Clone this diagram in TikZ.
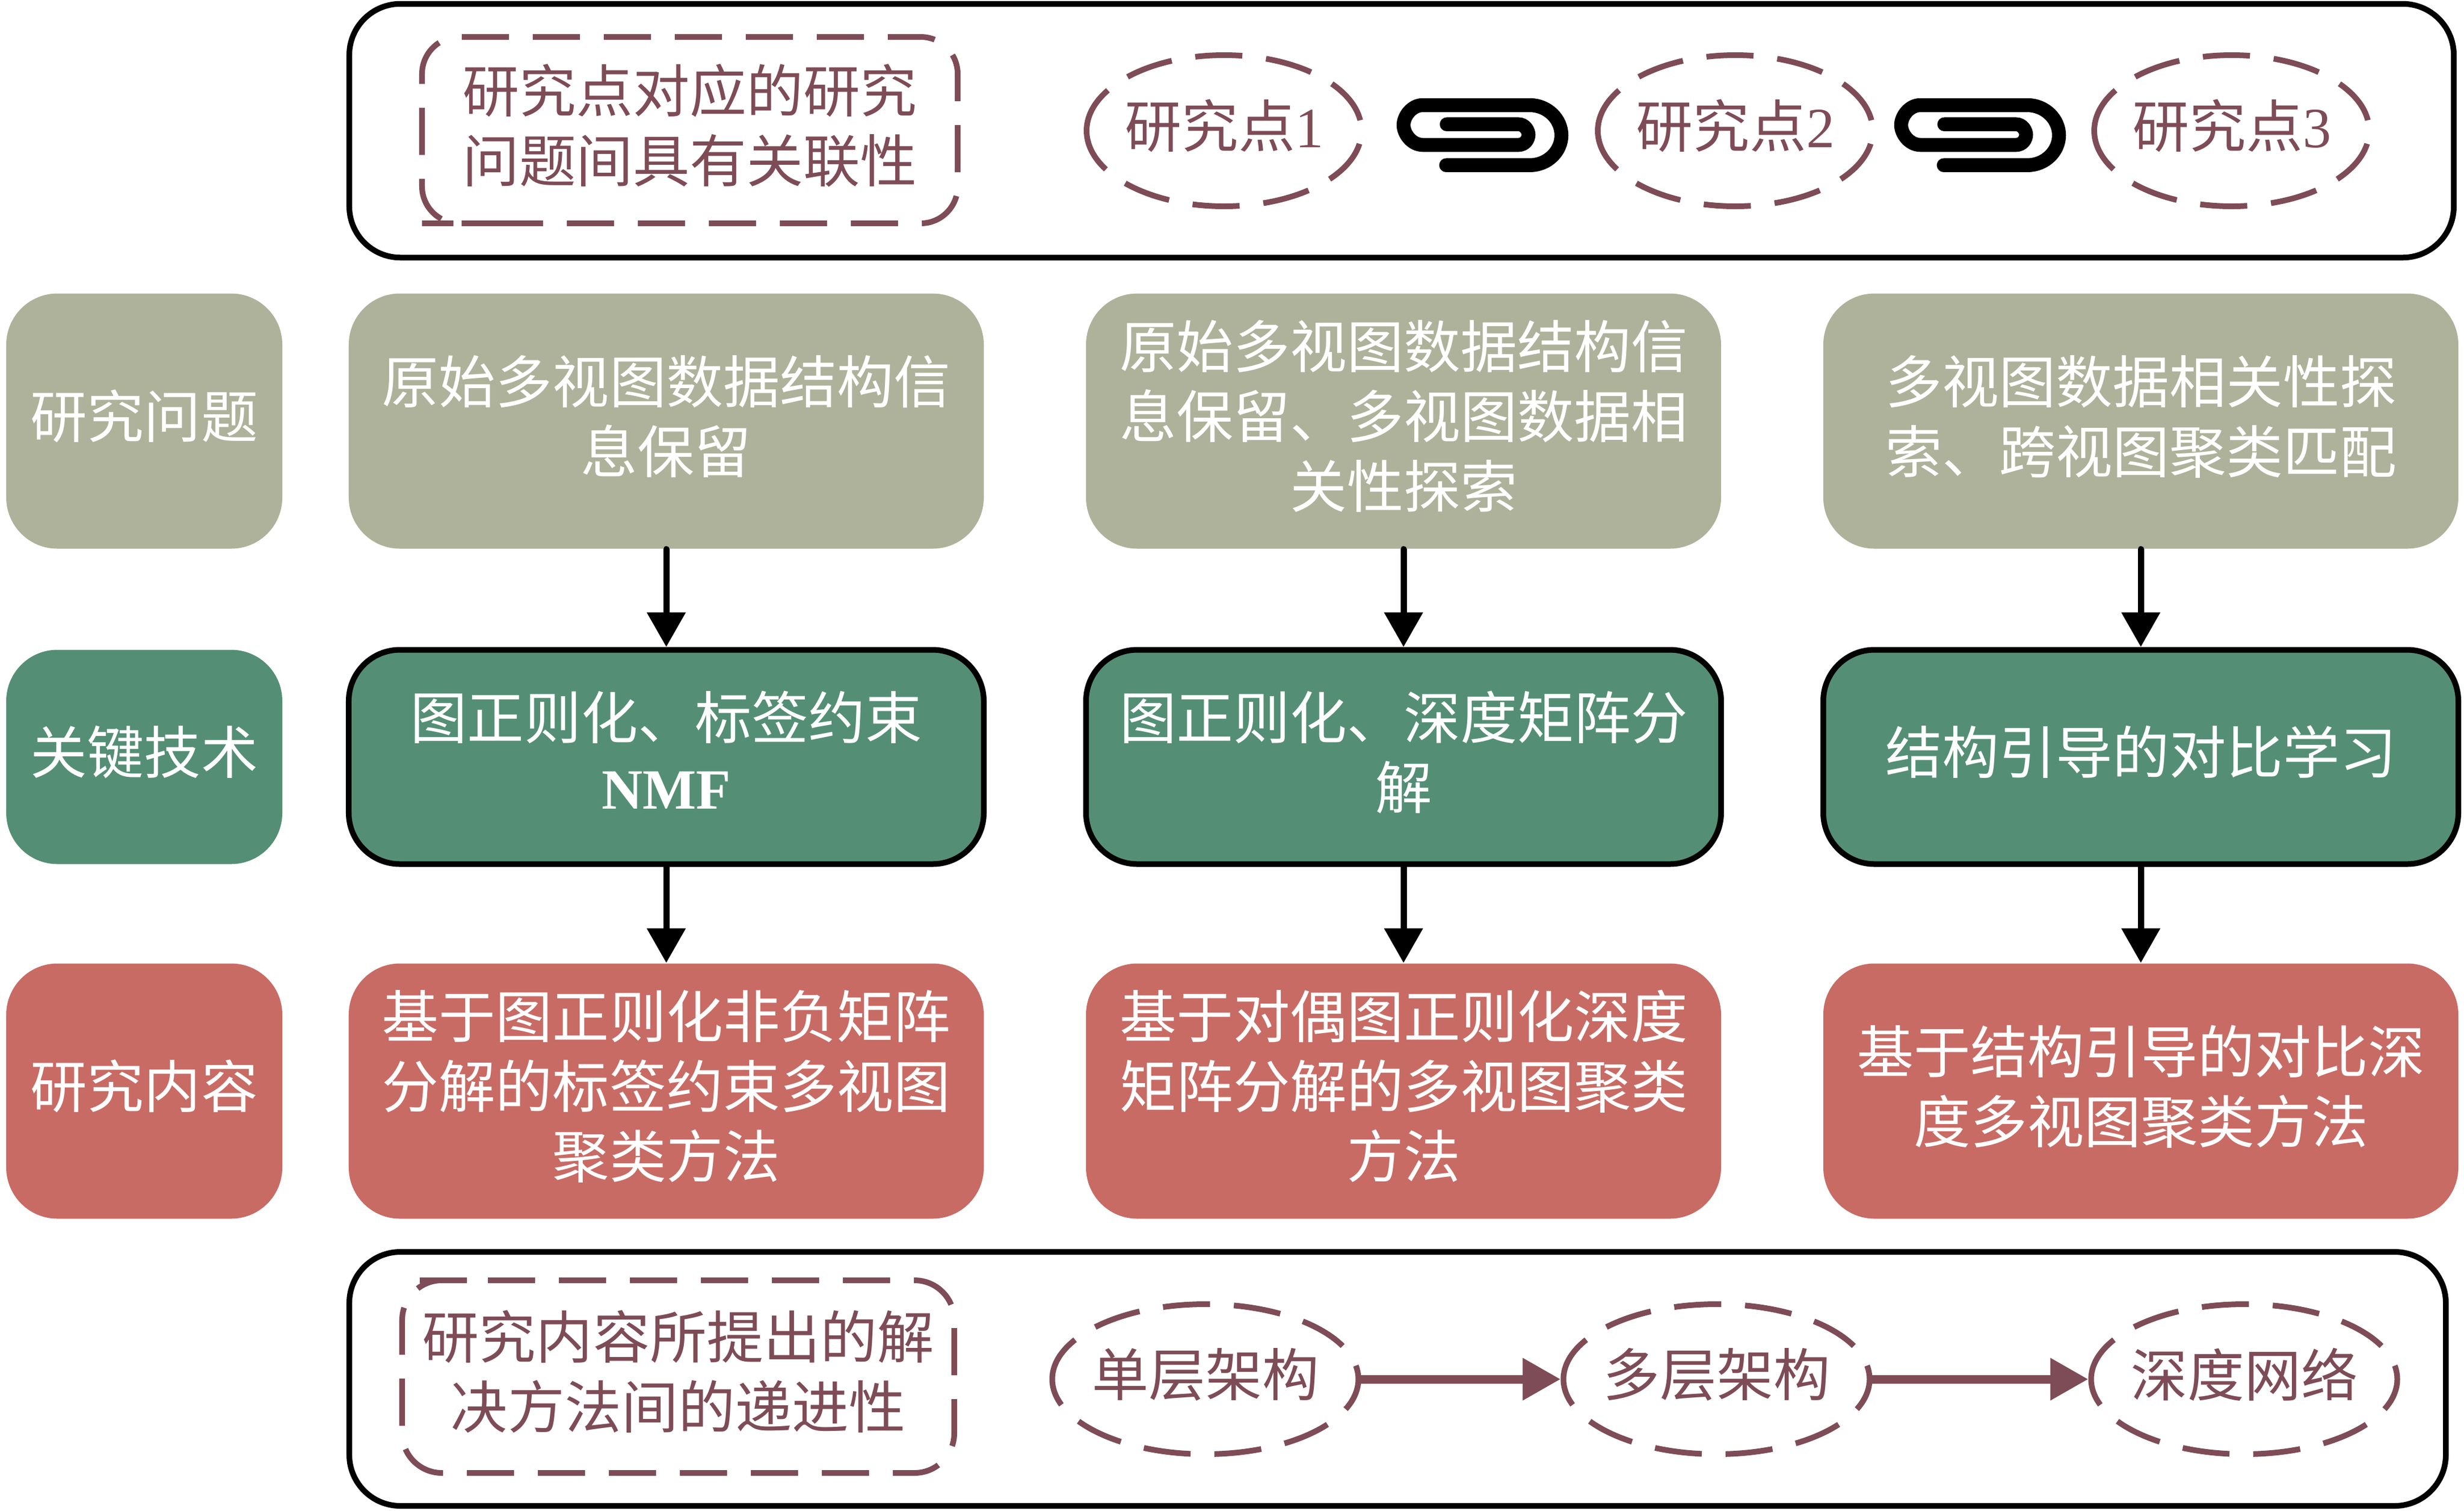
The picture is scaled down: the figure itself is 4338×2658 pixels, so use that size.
\documentclass[tikz,border=0pt]{standalone}
\usepackage{fontspec}
\setmainfont{Liberation Serif}
\newfontfamily\cjk{Noto Sans CJK SC}
\usetikzlibrary{arrows.meta}
\definecolor{khakiC}{RGB}{175,178,154}
\definecolor{greenC}{RGB}{84,143,117}
\definecolor{redC}{RGB}{200,107,100}
\definecolor{plumC}{RGB}{126,76,86}
\tikzset{
  base/.style={inner sep=0pt,align=center,text depth=5pt,font=\cjk\fontsize{20pt}{24.6pt}\selectfont},
  panel/.style={base,draw=black,line width=2pt,rounded corners=18pt,fill=white},
  dashline/.style={draw=plumC,line width=2pt,dash pattern=on 16.6pt off 8.4pt},
  dashbox/.style={base,text=plumC,outer sep=0pt},
  dashell/.style={base,text=plumC,outer sep=1pt,minimum width=96.8pt,minimum height=53.2pt},
  wideell/.style={dashell,minimum width=107.8pt,minimum height=52.8pt},
  tag/.style={base,text=white,rounded corners=18pt,minimum width=97.2pt},
  cell/.style={base,text=white,rounded corners=18pt,minimum width=223.6pt},
  khakibox/.style={fill=khakiC,minimum height=89.8pt},
  greenbox/.style={fill=greenC,minimum height=75.4pt},
  greenframe/.style={fill=greenC,draw=black,line width=2pt,minimum height=75.4pt},
  redbox/.style={fill=redC,minimum height=89.8pt},
  flow/.style={-{Triangle[length=12.2pt,width=13.2pt]},line width=2.2pt,draw=black,line cap=round},
  step arrow/.style={-{Triangle[length=13.4pt,width=14.2pt]},line width=3pt,draw=plumC,shorten <=-2pt},
  clippic/.pic={
    \draw[line width=4.9pt,line cap=round,draw=black]
      (167,98.7) -- (293,98.7)
      .. controls (305,98.7) and (311,110) .. (311,117)
      .. controls (311,125) and (305,135) .. (293,135)
      -- (125,135)
      .. controls (105,135) and (91,115) .. (91,100)
      .. controls (91,85) and (105,65) .. (125,65)
      -- (313,65)
      .. controls (345,65) and (369,90) .. (369,118)
      .. controls (369,146) and (345,170.7) .. (313,170.7)
      -- (166,170.7);
  }
}
\newcommand{\ringA}[1]{\draw[dashline] (#1.center) ++(-242,0) arc[start angle=180,end angle=540,x radius=242,y radius=133];}
\newcommand{\ringB}[1]{\draw[dashline] (#1.center) ++(-269.5,0) arc[start angle=180,end angle=540,x radius=269.5,y radius=132];}
\begin{document}
\begin{tikzpicture}[x=0.2pt,y=-0.2pt]
\useasboundingbox (0,0) rectangle (4338,2658);
% top panel
\node[panel,minimum width=741pt,minimum height=89.3pt] (top) at (2467.5,230) {};
\node[dashbox,minimum width=188.6pt,minimum height=65.6pt] (q) at (1214.5,229) {研究点对应的研究\\问题间具有关联性};
\draw[dashline,rounded corners=13pt] (808,393) -- (q.south east) -- (q.north east) -- (q.north west) -- (q.south west) -- cycle;
\node[dashell] (p1) at (2155,230) {研究点{\rmfamily 1}};
\node[dashell] (p2) at (3055,230) {研究点{\rmfamily 2}};
\node[dashell] (p3) at (3929,230) {研究点{\rmfamily 3}};
\ringA{p1}\ringA{p2}\ringA{p3}
\pic at (2380,120) {clippic};
\pic at (3256,120) {clippic};
% left tags
\node[tag,khakibox] (t1) at (254,741) {研究问题};
\node[tag,greenbox] (t2) at (254,1332) {关键技术};
\node[tag,redbox] (t3) at (254,1920) {研究内容};
% first row
\node[cell,khakibox] (a1) at (1173,741) {原始多视图数据结构信\\息保留};
\node[cell,khakibox] (b1) at (2471,741) {原始多视图数据结构信\\息保留、多视图数据相\\关性探索};
\node[cell,khakibox] (c1) at (3769,741) {多视图数据相关性探\\索、跨视图聚类匹配};
% second row
\node[cell,greenframe] (a2) at (1173,1332) {图正则化、标签约束\\{\rmfamily\bfseries NMF}};
\node[cell,greenframe] (b2) at (2471,1332) {图正则化、深度矩阵分\\解};
\node[cell,greenframe] (c2) at (3769,1332) {结构引导的对比学习};
% third row
\node[cell,redbox] (a3) at (1173,1920) {基于图正则化非负矩阵\\分解的标签约束多视图\\聚类方法};
\node[cell,redbox] (b3) at (2471,1920) {基于对偶图正则化深度\\矩阵分解的多视图聚类\\方法};
\node[cell,redbox] (c3) at (3769,1920) {基于结构引导的对比深\\度多视图聚类方法};
% arrows
\draw[flow] (a1.south) -- (a2.north);
\draw[flow] (b1.south) -- (b2.north);
\draw[flow] (c1.south) -- (c2.north);
\draw[flow] (a2.south) -- (a3.north);
\draw[flow] (b2.south) -- (b3.north);
\draw[flow] (c2.south) -- (c3.north);
% bottom panel
\node[panel,minimum width=738.2pt,minimum height=89.4pt] (bot) at (2460.5,2426.5) {};
\node[dashbox,minimum width=194.4pt,minimum height=67.8pt] (s) at (1194,2422.5) {研究内容所提出的解\\决方法间的递进性};
\draw[dashline,rounded corners=14pt] (789,2253) -- (s.north east) -- (s.south east) -- (s.south west) -- (s.north west) -- cycle;
\node[wideell] (e1) at (2122,2427) {单层架构};
\node[wideell] (e2) at (3022,2427) {多层架构};
\node[wideell] (e3) at (3951,2427) {深度网络};
\ringB{e1}\ringB{e2}\ringB{e3}
\draw[step arrow] (e1.east) -- (e2.west);
\draw[step arrow] (e2.east) -- (e3.west);
\end{tikzpicture}
\end{document}
